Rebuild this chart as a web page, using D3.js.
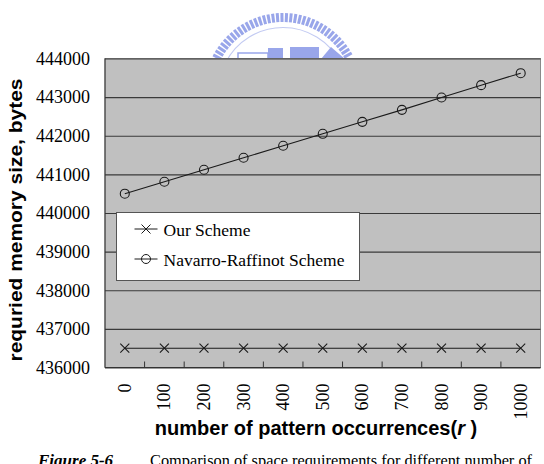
<!DOCTYPE html>
<html>
<head>
<meta charset="utf-8">
<script src="https://cdn.jsdelivr.net/npm/d3@7"></script>
<style>
    body { margin: 0; background: #fff; }
    svg { display: block; }
    .tick-label { font-family: "Liberation Serif", "Times New Roman", serif; font-size: 18px; fill: #000; }
    .axis-title { font-family: "Liberation Sans", Arial, sans-serif; font-weight: bold; fill: #000; }
    .legend-text { font-family: "Liberation Serif", "Times New Roman", serif; font-size: 17.5px; fill: #000; }
</style>
</head>
<body>
<svg id="chart" width="544" height="464"></svg>
<script>
// categories on the x axis (pattern occurrences r)
const categories = ['0', '100', '200', '300', '400', '500', '600', '700', '800', '900', '1000'];

// memory size in bytes
const ourScheme = [436500, 436500, 436500, 436500, 436500, 436500, 436500, 436500, 436500, 436500, 436500];
const navarroScheme = [440500, 440810, 441120, 441430, 441740, 442050, 442360, 442670, 442990, 443310, 443620];

const yTicks = [436000, 437000, 438000, 439000, 440000, 441000, 442000, 443000, 444000];
const seriesNames = ['Our Scheme', 'Navarro-Raffinot Scheme'];

class LineChart {

    constructor(_config) {
        this.config = {
            parentElement: _config.parentElement,
            margin: { top: 58.5, left: 105, right: 3.5, bottom: 96 },
            containerWidth: 544,
            containerHeight: 464
        };
        this.initVis();
    }

    initVis() {
        let vis = this;
        const m = vis.config.margin;
        vis.width = vis.config.containerWidth - m.left - m.right;
        vis.height = vis.config.containerHeight - m.top - m.bottom - 0.5;

        vis.svg = d3.select(vis.config.parentElement);

        // faint university logo behind the top of the plot
        vis.drawWatermark();

        vis.chart = vis.svg.append('g')
            .attr('transform', `translate(${m.left},${m.top})`);

        vis.xScale = d3.scaleBand()
            .domain(categories)
            .range([0, vis.width])
            .padding(0);

        vis.yScale = d3.scaleLinear()
            .domain([436000, 444000])
            .range([vis.height, 0]);

        // grey plot area
        vis.chart.append('rect')
            .attr('width', vis.width)
            .attr('height', vis.height)
            .attr('fill', '#c0c0c0')
            .attr('stroke', '#8a8a8a')
            .attr('stroke-width', 1);

        // horizontal gridlines
        vis.chart.append('g')
            .attr('class', 'grid')
            .call(d3.axisLeft(vis.yScale).tickValues(yTicks).tickSize(-vis.width).tickFormat(''))
            .call(g => g.select('.domain').remove())
            .call(g => g.selectAll('line').attr('stroke', '#3a3a3a').attr('stroke-width', 1.2));

        // y tick labels
        vis.chart.append('g')
            .call(d3.axisLeft(vis.yScale).tickValues(yTicks).tickSize(0).tickPadding(15).tickFormat(d3.format('d')))
            .call(g => g.select('.domain').remove())
            .call(g => g.selectAll('text').attr('class', 'tick-label').attr('font-size', null).attr('font-family', null));

        // axis lines
        vis.chart.append('line')
            .attr('x1', 0).attr('x2', 0).attr('y1', 0).attr('y2', vis.height)
            .attr('stroke', '#333');
        vis.chart.append('line')
            .attr('x1', 0).attr('x2', vis.width).attr('y1', vis.height).attr('y2', vis.height)
            .attr('stroke', '#333');

        // category ticks sit between the bands, pointing up
        vis.chart.append('g')
            .selectAll('line')
            .data(categories.slice(1))
            .join('line')
            .attr('x1', d => vis.xScale(d))
            .attr('x2', d => vis.xScale(d))
            .attr('y1', vis.height)
            .attr('y2', vis.height - 6)
            .attr('stroke', '#333');

        // rotated x tick labels
        vis.chart.append('g')
            .selectAll('text')
            .data(categories)
            .join('text')
            .attr('class', 'tick-label')
            .attr('text-anchor', 'end')
            .attr('transform', d => `translate(${vis.xScale(d) + vis.xScale.bandwidth() / 2 + 6},${vis.height + 16}) rotate(-90)`)
            .text(d => d);

        vis.marks = vis.chart.append('g');
        vis.renderVis();

        // axis titles
        vis.svg.append('text')
            .attr('class', 'axis-title')
            .attr('font-size', 19)
            .attr('text-anchor', 'middle')
            .attr('textLength', 283)
            .attr('lengthAdjust', 'spacingAndGlyphs')
            .attr('transform', 'translate(22,220) rotate(-90)')
            .text('requried memory size, bytes');

        const xt = vis.svg.append('text')
            .attr('class', 'axis-title')
            .attr('font-size', 20)
            .attr('text-anchor', 'middle')
            .attr('x', 316)
            .attr('y', 435);
        xt.append('tspan').text('number of pattern occurrences(');
        xt.append('tspan').attr('font-style', 'italic').text('r');
        xt.append('tspan').text(' )');

        // caption, cut off at the bottom edge as in the page scan
        const cap = vis.svg.append('text')
            .attr('font-family', '"Liberation Serif", "Times New Roman", serif')
            .attr('font-size', 17)
            .attr('y', 466);
        cap.append('tspan').attr('x', 38).attr('font-weight', 'bold').attr('font-style', 'italic').text('Figure 5-6');
        cap.append('tspan').attr('x', 150)
            .attr('textLength', 382)
            .attr('lengthAdjust', 'spacingAndGlyphs')
            .text('Comparison of space requirements for different number of');

        vis.drawLegend();
    }

    renderVis() {
        let vis = this;
        const cx = d => vis.xScale(d) + vis.xScale.bandwidth() / 2;

        vis.line = d3.line()
            .x((d, i) => cx(categories[i]))
            .y(d => vis.yScale(d));

        [ourScheme, navarroScheme].forEach(series => {
            vis.marks.append('path')
                .datum(series)
                .attr('fill', 'none')
                .attr('stroke', '#1a1a1a')
                .attr('stroke-width', 1.1)
                .attr('d', vis.line);
        });

        // x markers
        vis.marks.append('g')
            .selectAll('path')
            .data(ourScheme)
            .join('path')
            .attr('d', (d, i) => {
                const x = cx(categories[i]), y = vis.yScale(d), s = 4.5;
                return `M${x - s},${y - s}L${x + s},${y + s}M${x - s},${y + s}L${x + s},${y - s}`;
            })
            .attr('stroke', '#1a1a1a')
            .attr('stroke-width', 1.1);

        // circle markers
        vis.marks.append('g')
            .selectAll('circle')
            .data(navarroScheme)
            .join('circle')
            .attr('cx', (d, i) => cx(categories[i]))
            .attr('cy', d => vis.yScale(d))
            .attr('r', 4.5)
            .attr('fill', 'none')
            .attr('stroke', '#1a1a1a')
            .attr('stroke-width', 1.1);
    }

    drawLegend() {
        let vis = this;
        const lg = vis.svg.append('g').attr('transform', 'translate(116.5,212.5)');
        lg.append('rect')
            .attr('width', 243)
            .attr('height', 68)
            .attr('fill', '#fff')
            .attr('stroke', '#555');

        const items = lg.selectAll('g.item')
            .data(seriesNames)
            .join('g')
            .attr('class', 'item')
            .attr('transform', (d, i) => `translate(0,${16.5 + i * 30})`);

        items.append('line')
            .attr('x1', 18).attr('x2', 41)
            .attr('stroke', '#1a1a1a');
        items.filter((d, i) => i === 0).append('path')
            .attr('d', 'M25,-4.5L34,4.5M25,4.5L34,-4.5')
            .attr('stroke', '#1a1a1a');
        items.filter((d, i) => i === 1).append('circle')
            .attr('cx', 29.5).attr('r', 4.5)
            .attr('fill', 'none')
            .attr('stroke', '#1a1a1a');
        items.append('text')
            .attr('class', 'legend-text')
            .attr('x', 47)
            .attr('y', 6.5)
            .text(d => d);
    }

    drawWatermark() {
        let vis = this;
        const col = '#99a6ea';
        const wm = vis.svg.append('g').attr('transform', 'translate(283,92)');
        // radial ticks round the top of the seal
        const angles = d3.range(-62, 63, 3.4);
        wm.selectAll('line.ray')
            .data(angles)
            .join('line')
            .attr('class', 'ray')
            .attr('x1', a => 70 * Math.sin(a * Math.PI / 180))
            .attr('y1', a => -70 * Math.cos(a * Math.PI / 180))
            .attr('x2', a => 79 * Math.sin(a * Math.PI / 180))
            .attr('y2', a => -79 * Math.cos(a * Math.PI / 180))
            .attr('stroke', col)
            .attr('stroke-width', 3);
        wm.append('path')
            .attr('d', d3.arc()({ innerRadius: 64, outerRadius: 65, startAngle: -1.1, endAngle: 1.1 }))
            .attr('fill', col)
            .attr('opacity', 0.6);
        // building shapes
        wm.append('rect').attr('x', -45).attr('y', -39).attr('width', 30).attr('height', 6)
            .attr('fill', 'none').attr('stroke', col).attr('stroke-width', 1.5);
        wm.append('rect').attr('x', -15).attr('y', -44).attr('width', 15).attr('height', 12).attr('fill', col);
        wm.append('rect').attr('x', 7).attr('y', -45).attr('width', 29).attr('height', 13).attr('fill', col);
        wm.append('path').attr('d', 'M38,-33L48,-45L62,-33Z').attr('fill', col);
    }
}

new LineChart({ parentElement: '#chart' });
</script>
</body>
</html>
